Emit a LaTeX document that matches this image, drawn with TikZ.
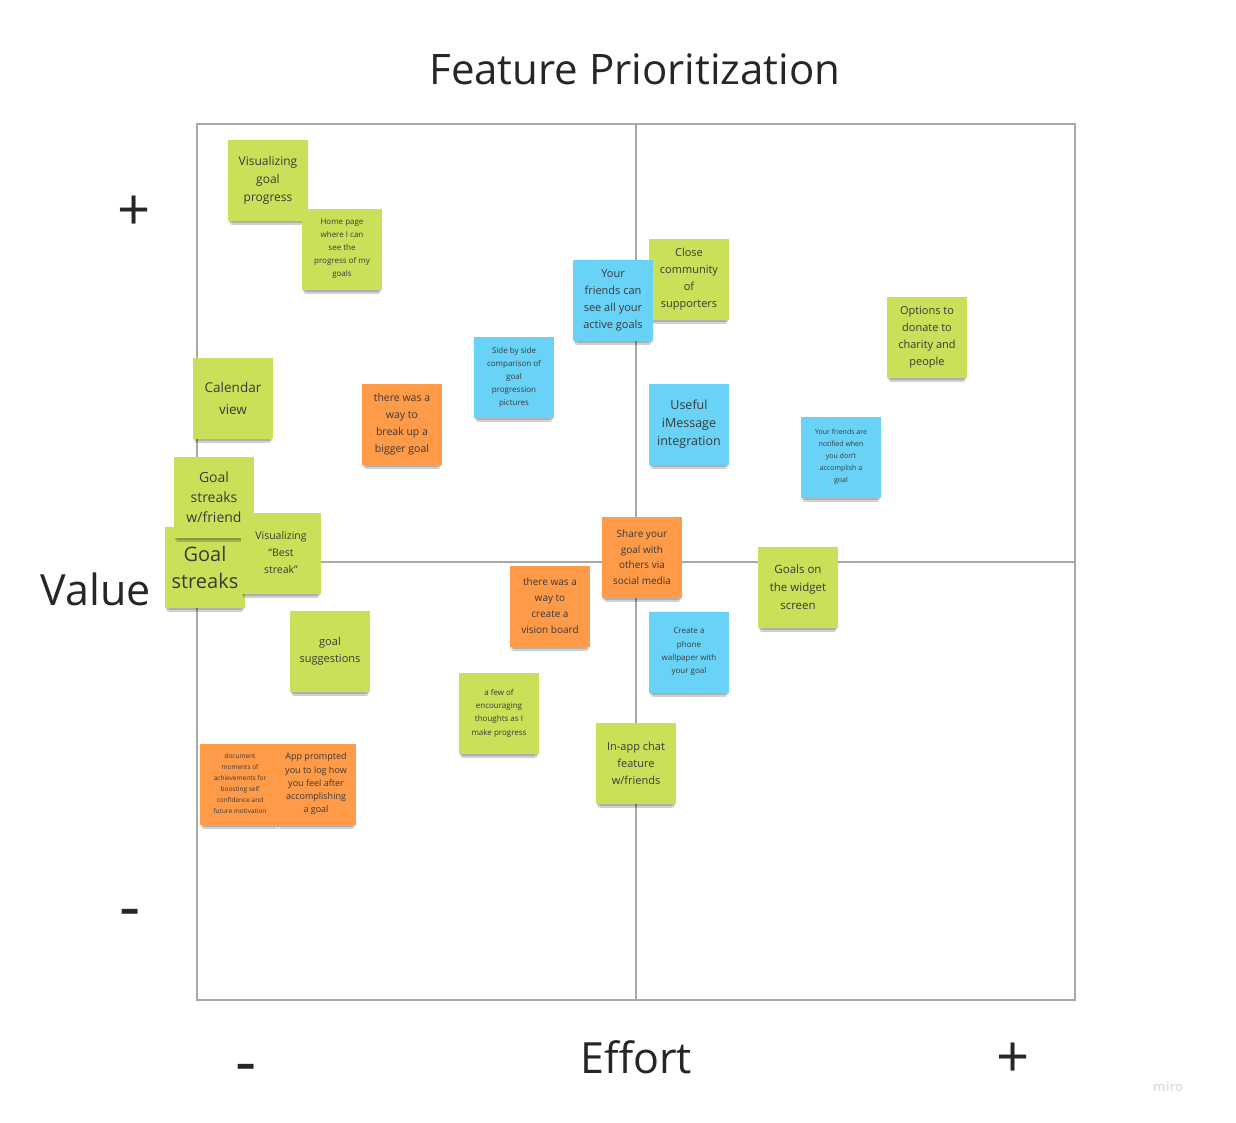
\documentclass[tikz,border=0pt]{standalone}
\usepackage{fontspec}
\setmainfont{Open Sans}
\usetikzlibrary{shadows}
\definecolor{sg}{HTML}{CCDF59}
\definecolor{sb}{HTML}{68D3F7}
\definecolor{so}{HTML}{FF9A48}
\definecolor{axisgray}{HTML}{A8A8A8}
\definecolor{ink}{HTML}{3A3A3A}
\definecolor{logogray}{HTML}{E2E2E2}
\tikzset{
  note/.style={rectangle, minimum width=80pt, minimum height=81pt, inner sep=0pt, align=center, text=ink,
    general shadow={fill=black, opacity=0.07, shadow yshift=-10pt, shadow scale=0.9},
    general shadow={fill=black, opacity=0.12, shadow yshift=-7pt, shadow scale=0.94},
    general shadow={fill=black, opacity=0.16, shadow yshift=-4pt, shadow scale=0.97}},
  gnote/.style={note, fill=sg},
  bnote/.style={note, fill=sb},
  onote/.style={note, fill=so},
  fs/.style 2 args={font=\fontsize{#1}{#2}\selectfont},
  axisline/.style={draw=axisgray, line width=2pt},
  biglabel/.style={text=black!85, inner sep=0pt}
}
\begin{document}
\begin{tikzpicture}[x=1pt,y=-1pt]
\useasboundingbox (0,0) rectangle (1236,1122);
% frame and axes
\coordinate (tl) at (197,124);
\coordinate (br) at (1075,1000);
\coordinate (vt) at (636,124);
\coordinate (vb) at (636,1000);
\coordinate (hl) at (197,562);
\coordinate (hr) at (1075,562);
\draw[axisline] (tl) rectangle (br);
\draw[axisline] (vt) -- (vb);
\draw[axisline] (hl) -- (hr);
% labels
\node[biglabel, fs={42}{48}] (title) at (635,69) {Feature Prioritization};
\node[biglabel, fs={58}{60}] (vplus) at (134,213) {+};
\node[biglabel, fs={66}{70}] (vminus) at (130,919) {-};
\node[biglabel, fs={43}{48}] (value) at (96,589) {Value};
\node[biglabel, fs={43}{48}] (effort) at (636,1057) {Effort};
\node[biglabel, fs={66}{70}] (eminus) at (246,1074) {-};
\node[biglabel, fs={58}{60}] (eplus) at (1013,1060) {+};
\node[text=logogray, inner sep=0pt, font=\bfseries\fontsize{13}{14}\selectfont] (miro) at (1168,1087) {miro};
% notes
\node[gnote, fs={12}{18}] (n1) at (268,180) {Visualizing\\goal\\progress};
\node[gnote, fs={8}{13}] (n2) at (342,249) {Home page\\where I can\\see the\\progress of my\\goals};
\node[gnote, fs={11}{17}] (n4) at (689,279) {Close\\community\\of\\supporters};
\node[bnote, fs={11}{17}] (n3) at (613,300) {Your\\friends can\\see all your\\active goals};
\node[gnote, fs={11}{17}] (n5) at (927,337) {Options to\\donate to\\charity and\\people};
\node[bnote, fs={8}{13}] (n6) at (514,377) {Side by side\\comparison of\\goal\\progression\\pictures};
\node[gnote, fs={13.5}{22}] (n7) at (233,398) {Calendar\\view};
\node[onote, fs={10.5}{17}] (n8) at (402,424) {there was a\\way to\\break up a\\bigger goal};
\node[bnote, fs={12.5}{18}] (n9) at (689,424) {Useful\\iMessage\\integration};
\node[bnote, fs={7}{12}] (n10) at (841,457) {Your friends are\\notified when\\you don't\\accomplish a\\goal};
\node[gnote, fs={20}{27}] (n13) at (205,567) {Goal\\streaks};
\node[gnote, fs={14}{20}] (n11) at (214,497) {Goal\\streaks\\w/friend};
\node[gnote, fs={10.5}{17}] (n12) at (281,553) {Visualizing\\“Best\\streak”};
\node[gnote, fs={11}{17}] (n14) at (330,651) {goal\\suggestions};
\node[onote, fs={10}{15.5}] (n15) at (642,557) {Share your\\goal with\\others via\\social media};
\node[onote, fs={10}{16}] (n16) at (550,606) {there was a\\way to\\create a\\vision board};
\node[gnote, fs={11.5}{18}] (n17) at (798,587) {Goals on\\the widget\\screen};
\node[bnote, fs={8}{13.3}] (n18) at (689,652) {Create a\\phone\\wallpaper with\\your goal};
\node[gnote, fs={8}{13.3}] (n19) at (499,713) {a few of\\encouraging\\thoughts as I\\make progress};
\node[onote, fs={6.5}{11}] (n20) at (240,784) {document\\moments of\\achievements for\\boosting self\\confidence and\\future motivation};
\node[onote, fs={9}{13.3}] (n21) at (316,784) {App prompted\\you to log how\\you feel after\\accomplishing\\a goal};
\node[gnote, fs={11}{17}] (n22) at (636,763) {In-app chat\\feature\\w/friends};
\end{tikzpicture}
\end{document}
